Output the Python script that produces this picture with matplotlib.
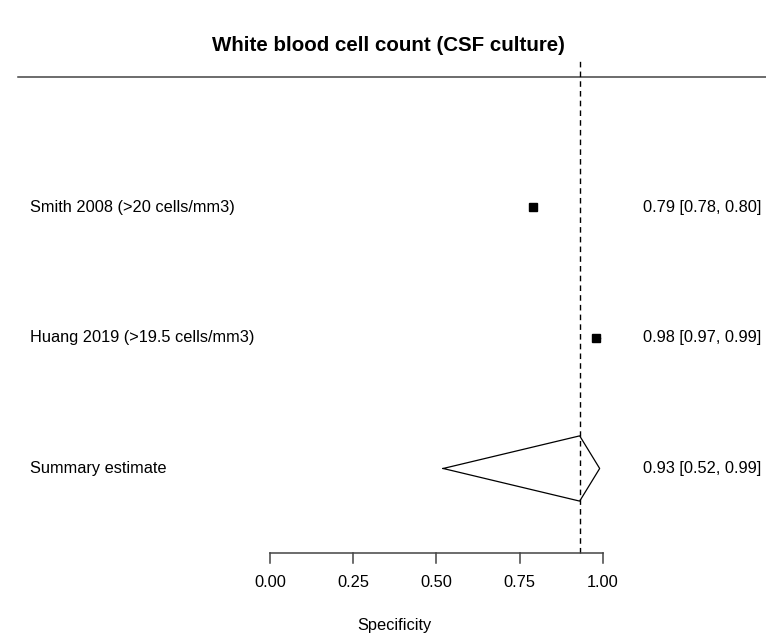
import matplotlib.pyplot as plt
import numpy as np

plt.rcParams['font.family'] = ['Liberation Sans', 'DejaVu Sans']

# study data (specificity with 95% CI)
studies = ['Smith 2008 (>20 cells/mm3)', 'Huang 2019 (>19.5 cells/mm3)']
spec = [0.79, 0.98]
ci_lo = [0.78, 0.97]
ci_hi = [0.80, 0.99]
rows = [2, 1]

# summary estimate
summary_label = 'Summary estimate'
sum_est, sum_lo, sum_hi = 0.93, 0.52, 0.99
summary_row = 0

ticks = [0.0, 0.25, 0.5, 0.75, 1.0]
tick_labels = ['0.00', '0.25', '0.50', '0.75', '1.00']

fs = 11.8

fig = plt.figure(figsize=(7.66, 6.38), dpi=100)
ax = fig.add_axes([0, 0, 1, 1])
ax.set_xlim(-0.8108, 1.4895)
ax.set_ylim(-1.299, 3.590)
ax.axis('off')

# title
ax.text(0.355, 3.245, 'White blood cell count (CSF culture)', ha='center', va='center',
        fontsize=14.8, fontweight='bold')

# top line
ax.plot([-0.757, 1.4895], [3, 3], color='#444444', lw=1.1)

# reference line at summary estimate
ax.plot([sum_est, sum_est], [-0.648, 3.146], color='black', lw=1, linestyle=(0, (4, 3)))

# studies
for r, lab, e, lo, hi in zip(rows, studies, spec, ci_lo, ci_hi):
    ax.plot([lo, hi], [r, r], color='black', lw=1)
    ax.plot(e, r, marker='s', color='black', markersize=6)
    ax.text(-0.7207, r, lab, ha='left', va='center', fontsize=fs)
    ax.text(1.4745, r, f'{e:.2f} [{lo:.2f}, {hi:.2f}]', ha='right', va='center', fontsize=fs)

# summary diamond
dx = [sum_lo, sum_est, sum_hi, sum_est, sum_lo]
dy = [summary_row, summary_row + 0.25, summary_row, summary_row - 0.25, summary_row]
ax.plot(dx, dy, color='black', lw=0.9)
ax.text(-0.7207, summary_row, summary_label, ha='left', va='center', fontsize=fs)
ax.text(1.4745, summary_row, f'{sum_est:.2f} [{sum_lo:.2f}, {sum_hi:.2f}]',
        ha='right', va='center', fontsize=fs)

# x axis
ax_y = -0.648
ax.plot([ticks[0], ticks[-1]], [ax_y, ax_y], color='#444444', lw=1.1)
for t, tl in zip(ticks, tick_labels):
    ax.plot([t, t], [ax_y, ax_y - 0.075], color='#444444', lw=1.1)
    ax.text(t, ax_y - 0.225, tl, ha='center', va='center', fontsize=fs)
ax.text(0.375, ax_y - 0.555, 'Specificity', ha='center', va='center', fontsize=fs)

fig.savefig('out.png', dpi=100)
